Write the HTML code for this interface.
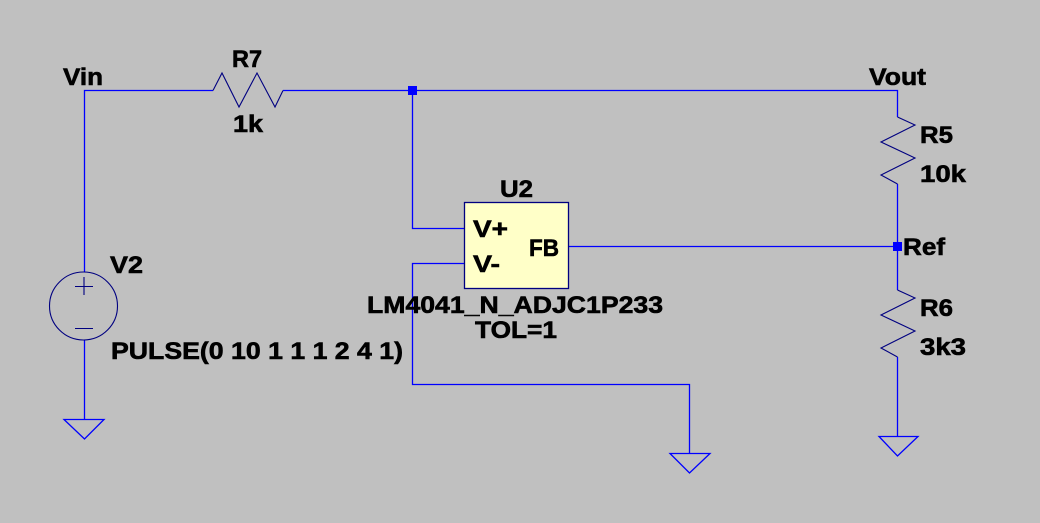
<!DOCTYPE html>
<html><head><meta charset="utf-8"><style>
html,body{margin:0;padding:0;background:#c0c0c0;}
svg{display:block;}
text{font-family:"Liberation Sans",sans-serif;font-weight:bold;font-size:24px;fill:#000;stroke:#000;stroke-width:0.6px;}
</style></head><body>
<svg width="1040" height="523" viewBox="0 0 1040 523" xmlns="http://www.w3.org/2000/svg">
<rect width="1040" height="523" fill="#c0c0c0"/>
<g fill="none" stroke="#0000ff" stroke-width="1.3">
  <!-- top wire -->
  <polyline points="84.5,272 84.5,90.5 213,90.5"/>
  <polyline points="283,90.5 897.5,90.5 897.5,117"/>
  <!-- left source bottom -->
  <line x1="84.5" y1="340" x2="84.5" y2="419.5"/>
  <polygon points="64,419.5 104,419.5 84.5,439"/>
  <!-- V+ -->
  <polyline points="412.5,90.5 412.5,228.5 464,228.5"/>
  <!-- V- -->
  <polyline points="464,263.5 412.5,263.5 412.5,384.5 689.5,384.5 689.5,453.5"/>
  <polygon points="670,453.5 710,453.5 689.5,473"/>
  <!-- FB -->
  <line x1="569" y1="246.5" x2="897.5" y2="246.5"/>
  <!-- right column -->
  <line x1="897.5" y1="184" x2="897.5" y2="290"/>
  <line x1="897.5" y1="357" x2="897.5" y2="436.5"/>
  <polygon points="879,436.5 918,436.5 897.5,456"/>
</g>
<!-- junctions -->
<rect x="408" y="86" width="9" height="9" fill="#0000ff"/>
<rect x="893" y="242" width="9" height="9" fill="#0000ff"/>
<g fill="none" stroke="#000080" stroke-width="1.1">
  <!-- R7 -->
  <polyline points="213,90.5 222,73 239,107 257,73 275,107 283,90.5"/>
  <!-- R5 -->
  <polyline points="897.5,117 915,125 881,142 915,158 881,175 897.5,184"/>
  <!-- R6 -->
  <polyline points="897.5,290 915,298 881,315 915,331 881,348 897.5,357"/>
  <!-- V2 -->
  <circle cx="83.5" cy="306" r="34"/>
  <line x1="75" y1="286.5" x2="93" y2="286.5"/>
  <line x1="84" y1="277" x2="84" y2="295"/>
  <line x1="75" y1="328.5" x2="93" y2="328.5"/>
</g>
<rect x="464.5" y="202.5" width="104" height="86" fill="#ffffc8" stroke="#000080" stroke-width="1.3"/>
<text x="63" y="85" textLength="40" lengthAdjust="spacingAndGlyphs">Vin</text>
<text x="232" y="67" textLength="30" lengthAdjust="spacingAndGlyphs">R7</text>
<text x="233" y="132" textLength="30" lengthAdjust="spacingAndGlyphs">1k</text>
<text x="500" y="197" textLength="33" lengthAdjust="spacingAndGlyphs">U2</text>
<text x="473" y="237" textLength="35" lengthAdjust="spacingAndGlyphs">V+</text>
<text x="473" y="272" textLength="27" lengthAdjust="spacingAndGlyphs">V-</text>
<text x="529" y="256" textLength="30" lengthAdjust="spacingAndGlyphs">FB</text>
<text x="367" y="313" textLength="296" lengthAdjust="spacingAndGlyphs">LM4041_N_ADJC1P233</text>
<text x="475" y="338" textLength="82" lengthAdjust="spacingAndGlyphs">TOL=1</text>
<text x="869" y="85" textLength="57" lengthAdjust="spacingAndGlyphs">Vout</text>
<text x="920" y="143" textLength="33" lengthAdjust="spacingAndGlyphs">R5</text>
<text x="920" y="182" textLength="46" lengthAdjust="spacingAndGlyphs">10k</text>
<text x="903" y="255" textLength="42" lengthAdjust="spacingAndGlyphs">Ref</text>
<text x="920" y="316" textLength="33" lengthAdjust="spacingAndGlyphs">R6</text>
<text x="920" y="355" textLength="46" lengthAdjust="spacingAndGlyphs">3k3</text>
<text x="110" y="273" textLength="33" lengthAdjust="spacingAndGlyphs">V2</text>
<text x="111" y="359" textLength="292" lengthAdjust="spacingAndGlyphs">PULSE(0 10 1 1 1 2 4 1)</text>
</svg>
</body></html>
